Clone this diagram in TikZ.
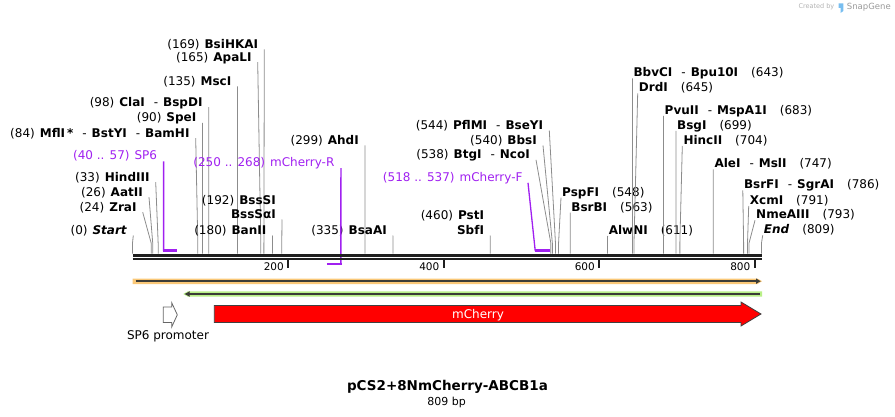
\documentclass[tikz,border=0pt]{standalone}
\usepackage{fontspec}
\setmainfont{DejaVu Sans}[ItalicFont={DejaVu Sans Oblique},BoldItalicFont={DejaVu Sans Bold Oblique}]
\usetikzlibrary{arrows.meta}
\definecolor{primer}{RGB}{160,32,240}
\definecolor{orangebar}{RGB}{250,200,120}
\definecolor{greenbar}{RGB}{185,240,135}
\definecolor{barline}{RGB}{60,60,55}
\definecolor{snapblue}{RGB}{120,190,240}
\newcommand{\sdash}{\hspace{9pt}-\hspace{5pt}}
\newcommand{\bpx}[1]{132.5+0.7775*#1}

\begin{document}
\begin{tikzpicture}[x=1pt,y=-1pt,
	lab/.style={inner sep=0pt,text height=8.8pt,text depth=0pt,font=\fontsize{12}{14}\selectfont},
	site/.style={black!45,line width=0.8pt},
	plab/.style={lab,text=primer},
	pline/.style={primer,line width=1.3pt}]
	\useasboundingbox (0,0) rectangle (895,417);

	% sites with the label left of the line
	\foreach \xt/\yc/\bp/\txt [count=\i] in {
		133.3/230/0/{(0)\hspace{5pt}\textbf{\textit{Start}}},
		142.7/206.7/24/{(24)\hspace{5pt}\textbf{ZraI}},
		149/191.7/26/{(26)\hspace{5pt}\textbf{AatII}},
		155.7/176.7/33/{(33)\hspace{5pt}\textbf{HindIII}},
		195.7/132.7/84/{(84)\hspace{5pt}\textbf{MflI\,*}\sdash\textbf{BstYI}\sdash\textbf{BamHI}},
		202.5/117.3/90/{(90)\hspace{5pt}\textbf{SpeI}},
		208.7/101.7/98/{(98)\hspace{5pt}\textbf{ClaI}\sdash\textbf{BspDI}},
		237.5/81/135/{(135)\hspace{5pt}\textbf{MscI}},
		257.7/56.7/165/{(165)\hspace{5pt}\textbf{ApaLI}},
		264.3/44/169/{(169)\hspace{5pt}\textbf{BsiHKAI}},
		272.5/230/180/{(180)\hspace{5pt}\textbf{BanII}},
		282/214/192/{\textbf{BssSαI}},
		365/140/299/{(299)\hspace{5pt}\textbf{AhdI}},
		393/230/335/{(335)\hspace{5pt}\textbf{BsaAI}},
		490.2/230/460/{\textbf{SbfI}},
		536/154.3/538/{(538)\hspace{5pt}\textbf{BtgI}\sdash\textbf{NcoI}},
		543/140/540/{(540)\hspace{5pt}\textbf{BbsI}},
		549.3/125/544/{(544)\hspace{5pt}\textbf{PflMI}\sdash\textbf{BseYI}}} {
		\node[lab,anchor=east] (L\i) at ({\xt-6},\yc) {\txt};
		\draw[site] ([xshift=6pt,yshift=-5.5pt]L\i.east) -- ({\bpx{\bp}},243) -- ({\bpx{\bp}},253.5);
	};
	\node[lab,anchor=east] (bsssi) at (276,200) {(192)\hspace{5pt}\textbf{BssSI}};
	\node[lab,anchor=east] (psti) at (484.2,215) {(460)\hspace{5pt}\textbf{PstI}};

	% sites with the label right of the line
	\foreach \xt/\yc/\bp/\txt [count=\i] in {
		561/191.7/548/{\textbf{PspFI}\hspace{13pt}(548)},
		570.2/206.7/563/{\textbf{BsrBI}\hspace{13pt}(563)},
		607.6/230/611/{\textbf{AlwNI}\hspace{13pt}(611)},
		632.4/72.3/643/{\textbf{BbvCI}\sdash\textbf{Bpu10I}\hspace{13pt}(643)},
		637.7/87.3/645/{\textbf{DrdI}\hspace{13pt}(645)},
		663.5/110/683/{\textbf{PvuII}\sdash\textbf{MspA1I}\hspace{13pt}(683)},
		676/125/699/{\textbf{BsgI}\hspace{13pt}(699)},
		682.3/140/704/{\textbf{HincII}\hspace{13pt}(704)},
		713.3/163.3/747/{\textbf{AleI}\sdash\textbf{MslI}\hspace{13pt}(747)},
		742.8/184.3/786/{\textbf{BsrFI}\sdash\textbf{SgrAI}\hspace{13pt}(786)},
		748.7/200/791/{\textbf{XcmI}\hspace{13pt}(791)},
		755/214.3/793/{\textbf{NmeAIII}\hspace{13pt}(793)},
		762.7/229.3/809/{\textbf{\textit{End}}\hspace{13pt}(809)}} {
		\node[lab,anchor=west] (R\i) at ({\xt+1},\yc) {\txt};
		\draw[site] ([xshift=-1pt,yshift=-6pt]R\i.west) -- ({\bpx{\bp}},243) -- ({\bpx{\bp}},253.5);
	};

	% primers
	\node[plab,anchor=east] (sp6) at (157.3,155) {(40 .. 57)\hspace{5pt}SP6};
	\draw[pline] ([xshift=6.3pt,yshift=-6.5pt]sp6.east) -- ({\bpx{40}},251);
	\draw[primer,line width=2.2pt] ({\bpx{40}-0.65},250.5) -- ({\bpx{57}},250.5);
	\node[plab,anchor=east] (mchr) at (334.6,161.7) {(250 .. 268)\hspace{5pt}mCherry-R};
	\draw[pline] ([xshift=6.3pt,yshift=-6.5pt]mchr.east) -- ({\bpx{268}},264);
	\draw[primer,line width=2.2pt] ({\bpx{250}},263.7) -- ({\bpx{268}+0.65},263.7);
	\node[plab,anchor=east] (mchf) at (522.7,177.3) {(518 .. 537)\hspace{5pt}mCherry-F};
	\draw[pline] ([xshift=5.3pt,yshift=-5.5pt]mchf.east) -- ({\bpx{518}},251);
	\draw[primer,line width=2.2pt] ({\bpx{518}-0.65},250.5) -- ({\bpx{537}},250.5);

	% sequence line and ruler
	\draw[black!88,line width=2.7pt] (132.5,255.3) -- (762,255.3);
	\draw[black!88,line width=2.3pt] (132.5,258.8) -- (762,258.8);
	\foreach \t in {200,400,600,800} {
		\draw[black!88,line width=2pt] ({\bpx{\t}},260) -- ({\bpx{\t}},268);
		\node[inner sep=0pt,anchor=east,font=\fontsize{10.5}{12}\selectfont] (t\t) at ({\bpx{\t}-4},266.3) {\t};
	};

	% features
	\fill[orangebar] (132.5,278.5) -- (757.5,278.5) -- (762,281.2) -- (757.5,284) -- (132.5,284) -- cycle;
	\draw[barline,line width=2pt,-{Latex[length=5pt,width=6pt]}] (135.5,281.2) -- (761,281.2);
	\fill[greenbar] (188,291.3) -- (762,291.3) -- (762,296.7) -- (188,296.7) -- (183.3,294) -- cycle;
	\draw[barline,line width=2pt,-{Latex[length=5pt,width=6pt]}] (760,294) -- (184.5,294);

	\draw[black!60,fill=white,line width=0.8pt] (163.3,307) -- (171.7,307) -- (171.7,302.7) -- (177.3,314.8)
		-- (171.7,327) -- (171.7,322.5) -- (163.3,322.5) -- cycle;
	\node[lab] (sp6prom) at (168,335.3) {SP6 promoter};

	\draw[black!75,fill=red,line width=0.8pt] (214.3,305.5) -- (741,305.5) -- (741,302) -- (761,314)
		-- (741,326) -- (741,322.5) -- (214.3,322.5) -- cycle;
	\node[lab,text=white] (mcherry) at (478,314) {mCherry};

	% title
	\node[inner sep=0pt,font=\bfseries\fontsize{13.5}{16}\selectfont] (title) at (447.5,386.7) {pCS2+8NmCherry-ABCB1a};
	\node[inner sep=0pt,font=\fontsize{11}{13}\selectfont] (length) at (446.7,402.3) {809 bp};

	% watermark
	\node[inner sep=0pt,anchor=west,text=black!30,font=\fontsize{6.5}{8}\selectfont] (created) at (798.3,6.7) {Created by};
	\fill[snapblue] (838.5,3.3) -- (843.3,3.3) -- (843.3,11) -- (840.5,13) -- (840.5,8) -- (838.5,8) -- cycle;
	\node[inner sep=0pt,anchor=west,text=black!40,font=\fontsize{8.5}{10}\selectfont] (snapgene) at (846.7,7) {SnapGene};
\end{tikzpicture}
\end{document}
